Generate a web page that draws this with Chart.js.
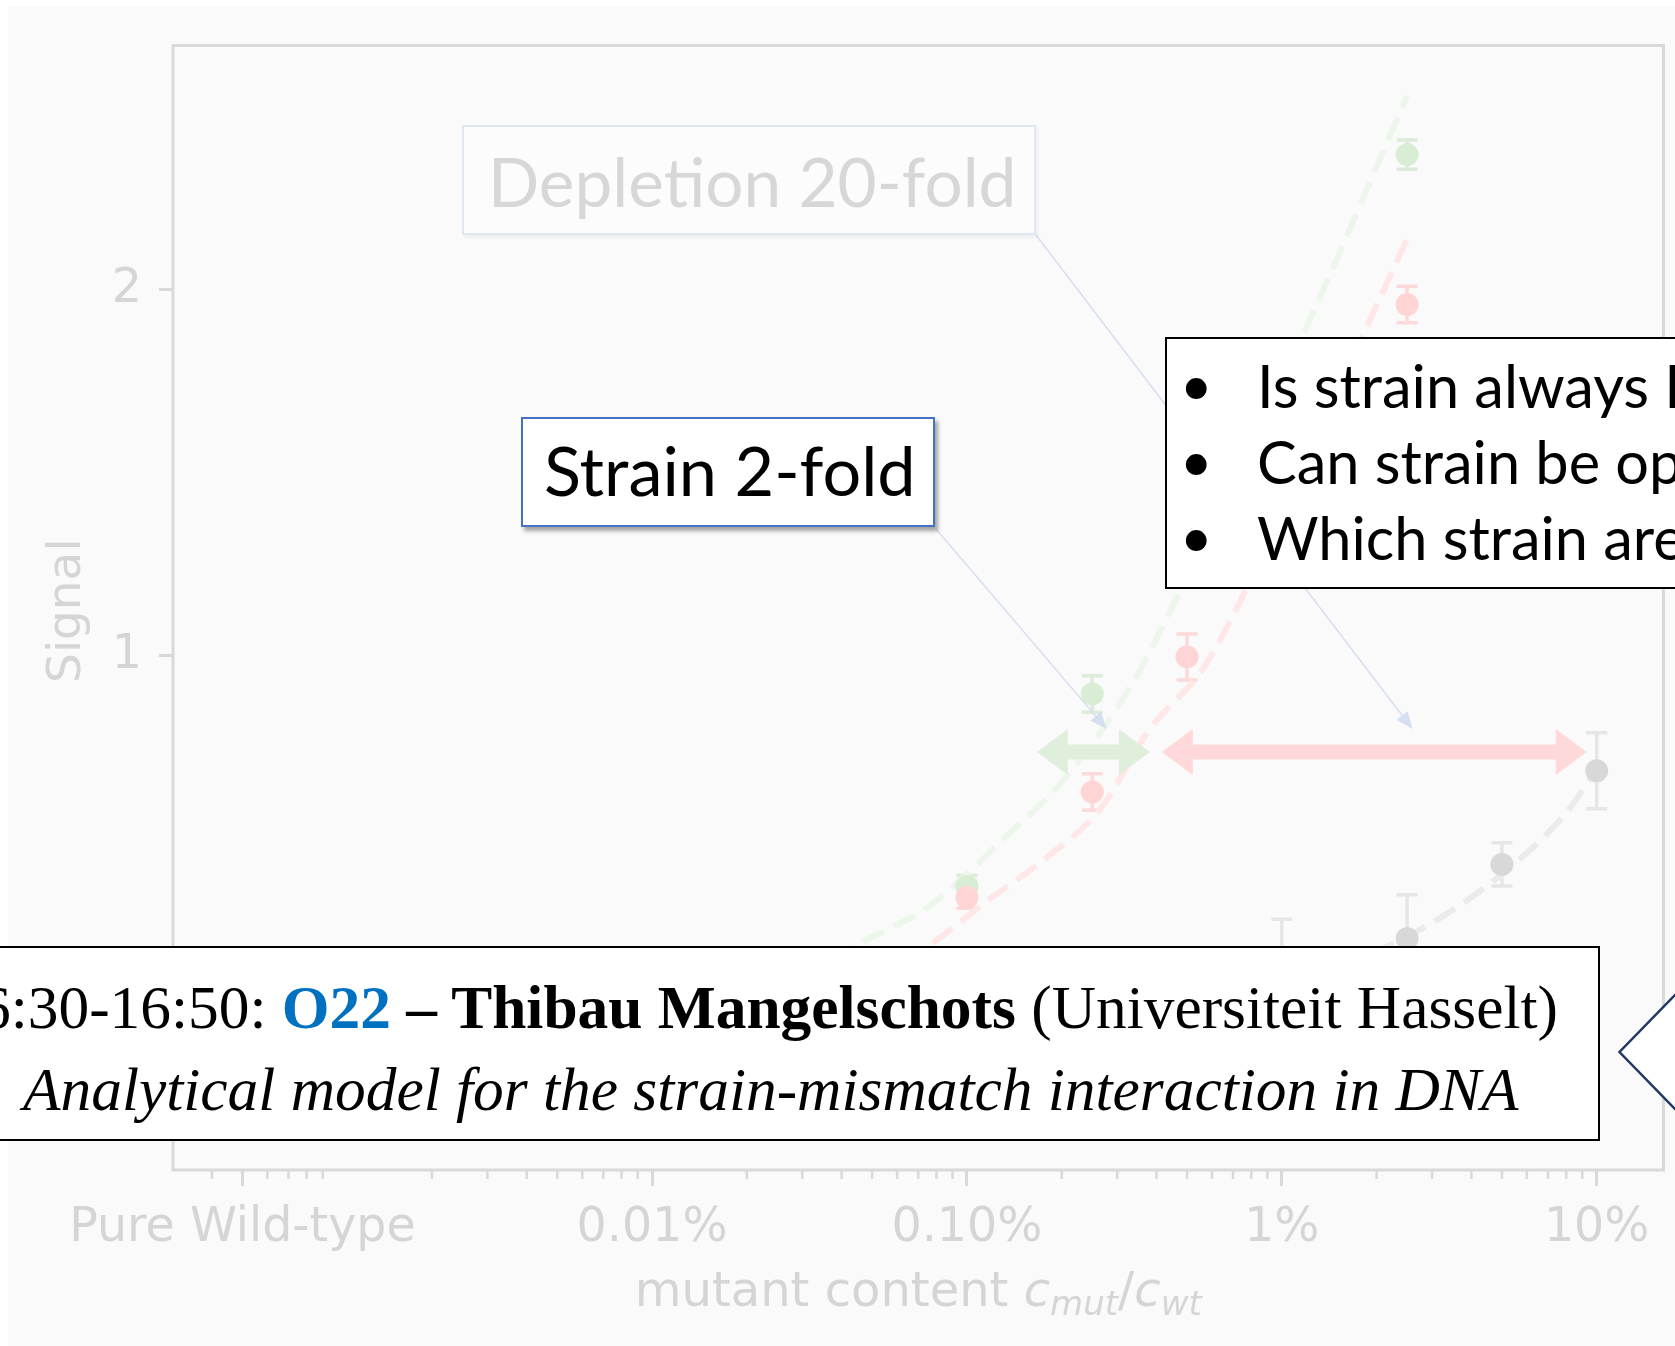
<!DOCTYPE html>
<html>
<head>
<meta charset="utf-8">
<title>Strain vs depletion</title>
<script src="https://cdn.jsdelivr.net/npm/chart.js@4.4.1/dist/chart.umd.min.js"></script>
<style>
  html, body { margin: 0; padding: 0; }
  body { width: 1675px; height: 1346px; overflow: hidden; background: #fff; position: relative; }
  #stage { position: absolute; left: 8px; top: 7px; right: 0; bottom: 0; background: #fafafa; }
  #chart { position: absolute; left: 0; top: 0; }
  .box { position: absolute; box-sizing: border-box; background: #fff; }
  .txt { position: absolute; white-space: nowrap; line-height: 1; }
  .sans { font-family: Lato, "Open Sans", sans-serif; }
  .serif { font-family: "Liberation Serif", "Times New Roman", serif; font-size: 61.4px; color: #000; }
  #depletion { left: 462px; top: 125px; width: 574px; height: 110px; border: 2px solid #dfe6f4;
               background: #fcfcfc; box-shadow: 2px 3px 4px rgba(0,0,0,0.05); }
  #strain { left: 521px; top: 417px; width: 414px; height: 110px; border: 2px solid #4472c4;
            box-shadow: 3px 4px 4px rgba(0,0,0,0.35); }
  #questions { left: 1165px; top: 337px; width: 560px; height: 252px; border: 2px solid #000; }
  #talk { left: -60px; top: 946px; width: 1660px; height: 195px; border: 2px solid #000; }
  #chevron { position: absolute; left: 1600px; top: 980px; }
</style>
</head>
<body>
<div id="stage"></div>
<canvas id="chart" width="1675" height="1346"></canvas>

<div class="box" id="depletion"></div>
<div class="txt sans" style="left:488px; top:147px; font-size:67.5px; color:#d7d7d7;">Depletion 20-fold</div>

<div class="box" id="strain"></div>
<div class="txt sans" style="left:544px; top:436px; font-size:68.4px; color:#000;">Strain 2-fold</div>

<div class="box" id="questions"></div>
<div class="txt sans" style="left:1180px; top:356px; font-size:56px;">&bull;</div>
<div class="txt sans" style="left:1257px; top:356px; font-size:59.5px;">Is strain always Depletion-like?</div>
<div class="txt sans" style="left:1180px; top:432px; font-size:56px;">&bull;</div>
<div class="txt sans" style="left:1257px; top:432px; font-size:59.5px;">Can strain be optimized?</div>
<div class="txt sans" style="left:1180px; top:508px; font-size:56px;">&bull;</div>
<div class="txt sans" style="left:1257px; top:508px; font-size:59.5px;">Which strain are possible?</div>

<div class="box" id="talk"></div>
<div class="txt serif" style="right:117px; top:977px;">16:30-16:50: <b style="color:#0070c0">O22</b> <b>&ndash; Thibau Mangelschots</b> (Universiteit Hasselt)</div>
<div class="txt serif" style="left:23px; top:1059px;"><i>Analytical model for the strain-mismatch interaction in DNA</i></div>

<svg id="chevron" width="75" height="140">
  <polyline points="76,14 19.5,72 76,130" fill="#fff" stroke="#203864" stroke-width="2.5"/>
</svg>

<script>
// axis range and ticks
const xMin = 3.01e-6;
const xMax = 0.163;
const yMin = -0.405;
const yMax = 2.668;
const xMajorTicks = [5e-6, 1e-4, 1e-3, 1e-2, 1e-1];
const xTickLabels = ['Pure Wild-type', '0.01%', '0.10%', '1%', '10%'];
const xMinorTicks = [
  4e-6, 6e-6, 7e-6, 8e-6, 9e-6,
  2e-5, 3e-5, 4e-5, 5e-5, 6e-5, 7e-5, 8e-5, 9e-5,
  2e-4, 3e-4, 4e-4, 5e-4, 6e-4, 7e-4, 8e-4, 9e-4,
  2e-3, 3e-3, 4e-3, 5e-3, 6e-3, 7e-3, 8e-3, 9e-3,
  2e-2, 3e-2, 4e-2, 5e-2, 6e-2, 7e-2, 8e-2, 9e-2
];
const yTicks = [0, 1, 2];
const yTickLabels = ['0', '1', '2'];

// measured points (mutant fraction, signal, error)
const concGreen = [0.001, 0.0025, 0.025];
const signalGreen = [0.37, 0.896, 2.37];
const errGreen = [0.03, 0.05, 0.04];

const concRed = [0.001, 0.0025, 0.005, 0.025];
const signalRed = [0.34, 0.628, 0.997, 1.96];
const errRed = [0.03, 0.05, 0.063, 0.05];

const concGray = [0.01, 0.025, 0.05, 0.1];
const signalGray = [0.12, 0.227, 0.43, 0.686];
const errGray = [0.16, 0.12, 0.059, 0.104];

// model curves
const fitConcGreen = [3e-4, 4.48e-4, 7.64e-4, 1.34e-3, 2.08e-3, 3.36e-3, 4.41e-3, 1.2e-2, 2.5e-2];
const fitGreen = [0.12, 0.21, 0.318, 0.509, 0.672, 0.926, 1.12, 1.9, 2.53];

const fitConcRed = [5e-4, 7.46e-4, 1.18e-3, 1.83e-3, 2.64e-3, 3.81e-3, 5.61e-3, 7.19e-3, 1.81e-2, 2.5e-2];
const fitRed = [0.12, 0.205, 0.335, 0.455, 0.58, 0.8, 0.964, 1.13, 1.876, 2.14];

const fitConcGray = [1.2e-2, 2.09e-2, 3.41e-2, 5.57e-2, 8.03e-2, 0.1];
const fitGray = [0.12, 0.2, 0.3, 0.437, 0.573, 0.69];

// shift arrows (from, to) at one signal level
const arrowSignal = 0.737;
const strainArrow = [1.667e-3, 3.81e-3];
const depletionArrow = [4.16e-3, 9.3e-2];

// where the callout leaders point
const strainTarget = [2.78e-3, 0.80];
const depletionTarget = [2.6e-2, 0.80];

const axisText = '#d5d5d5';
const frameColor = '#d9d9d9';

const toXY = (xs, ys) => xs.map((x, i) => ({ x: x, y: ys[i] }));

const pointSeries = [
  { conc: concRed, signal: signalRed, err: errRed, barColor: '#fdd9d9' },
  { conc: concGreen, signal: signalGreen, err: errGreen, barColor: '#dcecd8' },
  { conc: concGray, signal: signalGray, err: errGray, barColor: '#e6e6e6' }
];

const framePlugin = {
  id: 'frame',
  beforeDatasetsDraw(chart) {
    const { ctx, chartArea: a, scales: { x } } = chart;
    ctx.save();
    ctx.strokeStyle = frameColor;
    ctx.lineWidth = 3;
    ctx.strokeRect(a.left, a.top, a.right - a.left, a.bottom - a.top);
    // minor ticks
    ctx.lineWidth = 2.5;
    ctx.beginPath();
    xMinorTicks.forEach(v => {
      const px = x.getPixelForValue(v);
      ctx.moveTo(px, a.bottom);
      ctx.lineTo(px, a.bottom + 9);
    });
    ctx.stroke();
    ctx.restore();
  }
};

const errBarPlugin = {
  id: 'errBars',
  beforeDatasetsDraw(chart) {
    const { ctx, scales: { x, y } } = chart;
    ctx.save();
    ctx.lineWidth = 3.5;
    pointSeries.forEach(s => {
      ctx.strokeStyle = s.barColor;
      s.conc.forEach((c, i) => {
        const px = x.getPixelForValue(c);
        const top = y.getPixelForValue(s.signal[i] + s.err[i]);
        const bot = y.getPixelForValue(s.signal[i] - s.err[i]);
        ctx.beginPath();
        ctx.moveTo(px, top); ctx.lineTo(px, bot);
        ctx.moveTo(px - 10.5, top); ctx.lineTo(px + 10.5, top);
        ctx.moveTo(px - 10.5, bot); ctx.lineTo(px + 10.5, bot);
        ctx.stroke();
      });
    });
    ctx.restore();
  }
};

function doubleArrow(ctx, x1, x2, yp, color) {
  const hl = 31, hw = 23, sw = 7.5;
  ctx.fillStyle = color;
  ctx.beginPath();
  ctx.moveTo(x1, yp);
  ctx.lineTo(x1 + hl, yp - hw);
  ctx.lineTo(x1 + hl, yp - sw);
  ctx.lineTo(x2 - hl, yp - sw);
  ctx.lineTo(x2 - hl, yp - hw);
  ctx.lineTo(x2, yp);
  ctx.lineTo(x2 - hl, yp + hw);
  ctx.lineTo(x2 - hl, yp + sw);
  ctx.lineTo(x1 + hl, yp + sw);
  ctx.lineTo(x1 + hl, yp + hw);
  ctx.closePath();
  ctx.fill();
}

function leader(ctx, sx, sy, tx, ty) {
  const ang = Math.atan2(ty - sy, tx - sx);
  const len = 17, half = 7;
  const bx = tx - len * Math.cos(ang), by = ty - len * Math.sin(ang);
  ctx.beginPath();
  ctx.moveTo(sx, sy);
  ctx.lineTo(bx, by);
  ctx.stroke();
  ctx.beginPath();
  ctx.moveTo(tx, ty);
  ctx.lineTo(bx + half * Math.sin(ang), by - half * Math.cos(ang));
  ctx.lineTo(bx - half * Math.sin(ang), by + half * Math.cos(ang));
  ctx.closePath();
  ctx.fill();
}

const annotationPlugin = {
  id: 'shifts',
  afterDatasetsDraw(chart) {
    const { ctx, scales: { x, y } } = chart;
    const yp = y.getPixelForValue(arrowSignal);
    ctx.save();
    doubleArrow(ctx, x.getPixelForValue(strainArrow[0]), x.getPixelForValue(strainArrow[1]), yp, '#dfefdb');
    doubleArrow(ctx, x.getPixelForValue(depletionArrow[0]), x.getPixelForValue(depletionArrow[1]), yp, '#ffd9d9');
    ctx.strokeStyle = '#d6def1';
    ctx.fillStyle = '#d6def1';
    ctx.lineWidth = 1.5;
    // leaders start at the lower right corners of the two callout boxes
    leader(ctx, 1036, 235, x.getPixelForValue(depletionTarget[0]), y.getPixelForValue(depletionTarget[1]));
    leader(ctx, 936, 529, x.getPixelForValue(strainTarget[0]), y.getPixelForValue(strainTarget[1]));
    ctx.restore();
  }
};

const titlesPlugin = {
  id: 'titles',
  afterDraw(chart) {
    const { ctx, chartArea: a } = chart;
    ctx.save();
    ctx.fillStyle = axisText;
    // y title
    ctx.font = '47px "DejaVu Sans"';
    ctx.textAlign = 'center';
    ctx.textBaseline = 'alphabetic';
    ctx.translate(80, (a.top + a.bottom) / 2 + 3);
    ctx.rotate(-Math.PI / 2);
    ctx.fillText('Signal', 0, 0);
    ctx.setTransform(1, 0, 0, 1, 0, 0);
    // x title with c_mut / c_wt
    const parts = [
      { t: 'mutant content ', f: '48px "DejaVu Sans"', dy: 0 },
      { t: 'c', f: 'italic 48px "DejaVu Sans"', dy: 0 },
      { t: 'mut', f: 'italic 34px "DejaVu Sans"', dy: 9 },
      { t: '/', f: '48px "DejaVu Sans"', dy: 0 },
      { t: 'c', f: 'italic 48px "DejaVu Sans"', dy: 0 },
      { t: 'wt', f: 'italic 34px "DejaVu Sans"', dy: 9 }
    ];
    ctx.textAlign = 'left';
    let total = 0;
    parts.forEach(p => { ctx.font = p.f; p.w = ctx.measureText(p.t).width; total += p.w; });
    let cx = (a.left + a.right) / 2 - total / 2;
    parts.forEach(p => {
      ctx.font = p.f;
      ctx.fillText(p.t, cx, 1306 + p.dy);
      cx += p.w;
    });
    ctx.restore();
  }
};

const pointStyle = (color) => ({
  pointRadius: 11.5, pointHoverRadius: 11.5, pointBorderWidth: 0,
  pointBackgroundColor: color, backgroundColor: color, showLine: false
});
const fitStyle = (color) => ({
  showLine: true, pointRadius: 0, pointHoverRadius: 0, borderColor: color,
  borderWidth: 6, borderDash: [24, 11], cubicInterpolationMode: 'monotone', fill: false
});

new Chart(document.getElementById('chart'), {
  type: 'scatter',
  data: {
    datasets: [
      { label: 'strain + depletion', data: toXY(concRed, signalRed), ...pointStyle('#ffd4d4') },
      { label: 'strain', data: toXY(concGreen, signalGreen), ...pointStyle('#d9ecd4') },
      { label: 'reference', data: toXY(concGray, signalGray), ...pointStyle('#d8d8d8') },
      { label: 'strain fit', data: toXY(fitConcGreen, fitGreen), ...fitStyle('#edf6eb') },
      { label: 'strain + depletion fit', data: toXY(fitConcRed, fitRed), ...fitStyle('#ffe7e7') },
      { label: 'reference fit', data: toXY(fitConcGray, fitGray), ...fitStyle('#ebebeb') }
    ]
  },
  options: {
    responsive: false,
    animation: false,
    devicePixelRatio: 1,
    layout: { padding: { left: 0, top: 36, right: 11, bottom: 0 } },
    plugins: { legend: { display: false }, tooltip: { enabled: false } },
    scales: {
      x: {
        type: 'logarithmic',
        min: xMin,
        max: xMax,
        afterFit: s => { s.height = 176; },
        afterBuildTicks: s => { s.ticks = xMajorTicks.map(v => ({ value: v })); },
        ticks: {
          callback: (v, i) => xTickLabels[i],
          color: axisText,
          font: { family: 'DejaVu Sans', size: 47.5 },
          padding: 14,
          autoSkip: false,
          maxRotation: 0
        },
        grid: { drawOnChartArea: false, tickLength: 16, tickWidth: 3, tickColor: frameColor },
        border: { display: false }
      },
      y: {
        min: yMin,
        max: yMax,
        afterFit: s => { s.width = 173; },
        afterBuildTicks: s => { s.ticks = yTicks.map(v => ({ value: v })); },
        ticks: {
          callback: (v, i) => yTickLabels[i],
          color: axisText,
          font: { family: 'DejaVu Sans', size: 47.5 },
          padding: 17
        },
        grid: { drawOnChartArea: false, tickLength: 14, tickWidth: 3, tickColor: frameColor },
        border: { display: false }
      }
    }
  },
  plugins: [framePlugin, errBarPlugin, annotationPlugin, titlesPlugin]
});
</script>
</body>
</html>
